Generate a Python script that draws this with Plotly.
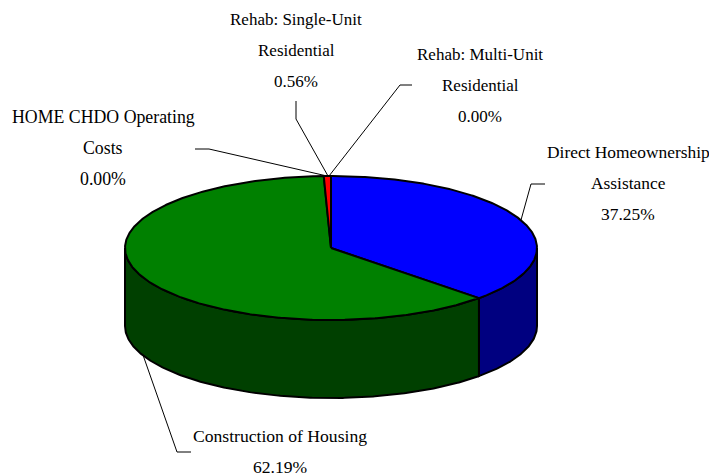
import math
import plotly.graph_objects as go

categories = ["Direct Homeownership Assistance", "Construction of Housing",
              "HOME CHDO Operating Costs", "Rehab: Single-Unit Residential",
              "Rehab: Multi-Unit Residential"]
values = [37.25, 62.19, 0.00, 0.56, 0.00]
top_colors = ["#0000FF", "#008000", "#800080", "#FF0000", "#00FFFF"]
side_colors = ["#000080", "#004000", "#400040", "#800000", "#008080"]

# label layout: (centre x, first line y, font size, lines)
label_lines = [
    (628, 152, 17.4, ["Direct Homeownership", "Assistance", "37.25%"]),
    (280, 436, 17.6, ["Construction of Housing", "62.19%"]),
    (103, 117, 17.8, ["HOME CHDO Operating", "Costs", "0.00%"]),
    (296, 19, 17, ["Rehab: Single-Unit", "Residential", "0.56%"]),
    (480, 54, 17, ["Rehab: Multi-Unit", "Residential", "0.00%"]),
]
leaders = [
    ([545, 531, 521], [184, 184, 220]),
    ([191, 177, 143], [452, 452, 355]),
    ([195, 209, 327], [149, 149, 176]),
    ([296, 296, 328], [101, 119, 176]),
    ([412, 400, 329], [85, 85, 176]),
]

CX, CY, RX, RY, DEPTH = 331, 248, 206, 72, 78
LINE_H = 31


def rim(a0, a1, dy=0):
    """Points on the ellipse between clockwise angles a0..a1 (degrees from top)."""
    n = max(2, int(abs(a1 - a0) * 2) + 1)
    xs, ys = [], []
    for i in range(n):
        a = math.radians(a0 + (a1 - a0) * i / (n - 1))
        xs.append(CX + RX * math.sin(a))
        ys.append(CY - RY * math.cos(a) + dy)
    return xs, ys


fig = go.Figure()
total = sum(values)
starts, a = [], 0.0
for v in values:
    starts.append(a)
    a += v / total * 360

# side wall (only the front half of the rim is visible)
for v, s, c in zip(values, starts, side_colors):
    a0, a1 = max(s, 90), min(s + v / total * 360, 270)
    if a1 <= a0:
        continue
    tx, ty = rim(a0, a1)
    bx, by = rim(a1, a0, DEPTH)
    fig.add_trace(go.Scatter(x=tx + bx + tx[:1], y=ty + by + ty[:1], mode="lines",
                             fill="toself", fillcolor=c,
                             line=dict(color="#000000", width=2), hoverinfo="skip"))

# top face
for name, v, s, c in zip(categories, values, starts, top_colors):
    if v == 0:
        continue
    tx, ty = rim(s, s + v / total * 360)
    fig.add_trace(go.Scatter(x=[CX] + tx + [CX], y=[CY] + ty + [CY], mode="lines",
                             fill="toself", fillcolor=c, name=name,
                             line=dict(color="#000000", width=2), hoverinfo="skip"))

# leader lines
for lx, ly in leaders:
    fig.add_trace(go.Scatter(x=lx, y=ly, mode="lines",
                             line=dict(color="#000000", width=1), hoverinfo="skip"))

for x, y, size, lines in label_lines:
    for i, t in enumerate(lines):
        fig.add_annotation(x=x, y=y + i * LINE_H, text=t, showarrow=False,
                           xanchor="center", yanchor="middle",
                           font=dict(family="Liberation Serif", size=size, color="#000000"))

fig.update_layout(
    width=709, height=476, margin=dict(l=0, r=0, t=0, b=0),
    paper_bgcolor="white", plot_bgcolor="white", showlegend=False,
    xaxis=dict(range=[0, 709], visible=False, fixedrange=True),
    yaxis=dict(range=[476, 0], visible=False, fixedrange=True),
)
fig.write_html("out.html", config=dict(displayModeBar=False),
               post_script="document.body.style.margin='0';document.body.style.overflow='hidden';")
